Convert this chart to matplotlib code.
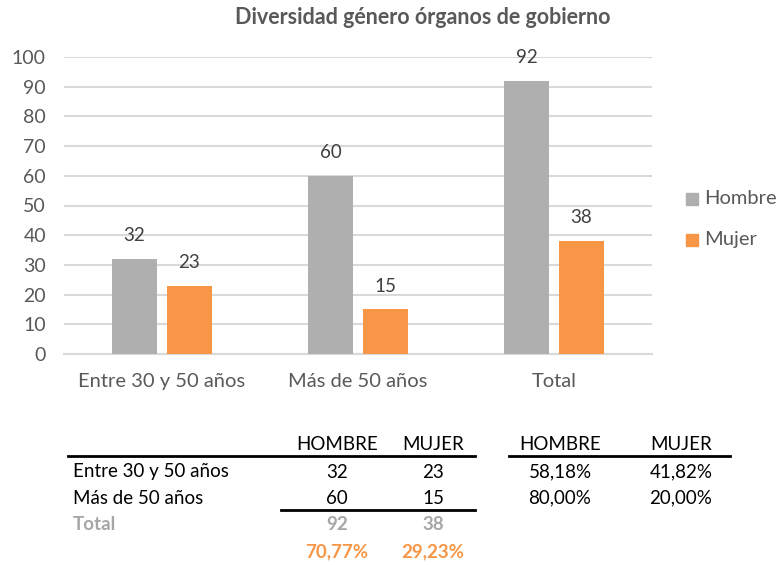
import matplotlib
matplotlib.use("Agg")
import matplotlib.pyplot as plt
from matplotlib.lines import Line2D

plt.rcParams['font.family'] = ['Lato', 'DejaVu Sans']

# data
categories = ["Entre 30 y 50 años", "Más de 50 años", "Total"]
hombre = [32, 60, 92]
mujer = [23, 15, 38]
series_names = ["Hombre", "Mujer"]

# summary table below the chart
row_labels = ["Entre 30 y 50 años", "Más de 50 años"]
table_hombre = [32, 60]
table_mujer = [23, 15]
total_hombre = 92
total_mujer = 38

gray = '#AFAFAF'
orange = '#F79646'
text_gray = '#595959'

W, H = 779, 565
fig = plt.figure(figsize=(W / 100, H / 100), dpi=100)

def fx(px):
    return px / W

def fy(py):
    return 1 - py / H

ax = fig.add_axes([fx(64), fy(354), fx(652) - fx(64), fy(57) - fy(354)])

x = list(range(len(categories)))
bw = 0.23
off = 0.14
b1 = ax.bar([i - off for i in x], hombre, bw, color=gray, label=series_names[0], zorder=3)
b2 = ax.bar([i + off for i in x], mujer, bw, color=orange, label=series_names[1], zorder=3)

for bars in (b1, b2):
    for r in bars:
        ax.text(r.get_x() + r.get_width() / 2, r.get_height() + 5, str(int(r.get_height())),
                ha='center', va='bottom', fontsize=13.5, color='#404040')

ax.set_xlim(-0.5, 2.5)
ax.set_ylim(0, 100)
ax.set_yticks(range(0, 101, 10))
ax.yaxis.grid(True, color='#D9D9D9', linewidth=1.5, zorder=0)
ax.set_axisbelow(True)
for s in ['top', 'right', 'left']:
    ax.spines[s].set_visible(False)
ax.spines['bottom'].set_color('#D9D9D9')
ax.spines['bottom'].set_linewidth(1.5)
ax.tick_params(axis='both', length=0, labelsize=14, colors=text_gray)
ax.tick_params(axis='y', pad=13)
ax.tick_params(axis='x', pad=14)
ax.set_xticks(x)
ax.set_xticklabels(categories, fontsize=14.5)

fig.text(fx(423), fy(18), "Diversidad género órganos de gobierno", ha='center', va='center',
         fontsize=15.5, fontweight='bold', color=text_gray)

# legend
for name, col, yy in [(series_names[0], gray, 199), (series_names[1], orange, 240)]:
    fig.patches.append(plt.Rectangle((fx(686), fy(yy + 6)), fx(12), fy(yy - 6) - fy(yy + 6),
                                     transform=fig.transFigure, color=col, figure=fig))
    fig.text(fx(704), fy(yy), name, ha='left', va='center', fontsize=14.5, color=text_gray)

# table
fs = 13.5
cols = [337, 433, 560, 681]
fig.text(fx(cols[0]), fy(444), "HOMBRE", ha='center', va='center', fontsize=fs, color='black')
fig.text(fx(cols[1]), fy(444), "MUJER", ha='center', va='center', fontsize=fs, color='black')
fig.text(fx(cols[2]), fy(444), "HOMBRE", ha='center', va='center', fontsize=fs, color='black')
fig.text(fx(cols[3]), fy(444), "MUJER", ha='center', va='center', fontsize=fs, color='black')

fig.add_artist(Line2D([fx(68), fx(475)], [fy(456), fy(456)], color='black', linewidth=2))
fig.add_artist(Line2D([fx(509), fx(730)], [fy(456), fy(456)], color='black', linewidth=2))
fig.add_artist(Line2D([fx(281), fx(475)], [fy(510), fy(510)], color='black', linewidth=2))

row_y = [472, 498]
for lab, h, m, yy in zip(row_labels, table_hombre, table_mujer, row_y):
    tot = h + m
    fig.text(fx(73), fy(yy), lab, ha='left', va='center', fontsize=fs, color='black')
    fig.text(fx(cols[0]), fy(yy), str(h), ha='center', va='center', fontsize=fs, color='black')
    fig.text(fx(cols[1]), fy(yy), str(m), ha='center', va='center', fontsize=fs, color='black')
    fig.text(fx(cols[2]), fy(yy), f"{100 * h / tot:.2f}%".replace('.', ','), ha='center',
             va='center', fontsize=fs, color='black')
    fig.text(fx(cols[3]), fy(yy), f"{100 * m / tot:.2f}%".replace('.', ','), ha='center',
             va='center', fontsize=fs, color='black')

tcol = '#A6A6A6'
fig.text(fx(73), fy(525), "Total", ha='left', va='center', fontsize=fs, color=tcol, fontweight='bold')
fig.text(fx(cols[0]), fy(525), str(total_hombre), ha='center', va='center', fontsize=fs,
         color=tcol, fontweight='bold')
fig.text(fx(cols[1]), fy(525), str(total_mujer), ha='center', va='center', fontsize=fs,
         color=tcol, fontweight='bold')
grand = total_hombre + total_mujer
fig.text(fx(cols[0]), fy(552), f"{100 * total_hombre / grand:.2f}%".replace('.', ','),
         ha='center', va='center', fontsize=fs, color=orange, fontweight='bold')
fig.text(fx(cols[1]), fy(552), f"{100 * total_mujer / grand:.2f}%".replace('.', ','),
         ha='center', va='center', fontsize=fs, color=orange, fontweight='bold')

fig.savefig("out.png", dpi=100)
